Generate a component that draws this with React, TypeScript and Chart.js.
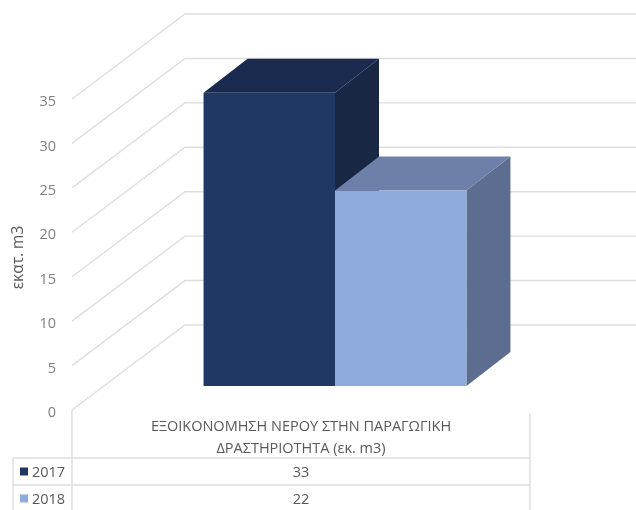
import React, { useEffect, useRef } from "react";
import { Chart, registerables } from "chart.js";

Chart.register(...registerables);

const categories = [["ΕΞΟΙΚΟΝΟΜΗΣΗ ΝΕΡΟΥ ΣΤΗΝ ΠΑΡΑΓΩΓΙΚΗ", "ΔΡΑΣΤΗΡΙΟΤΗΤΑ (εκ. m3)"]];
const seriesNames = ["2017", "2018"];
const values2017 = [33];
const values2018 = [22];
const yTitle = "εκατ. m3";

const frontColors = ["#1f3864", "#8faadc"];
const topColors = ["#1a2b4f", "#6c80a9"];
const sideColors = ["#172744", "#5c6d90"];
const gridColor = "#dedede";
const textColor = "#595959";
const fontFamily = "'Open Sans', 'Noto Sans', sans-serif";

const LABEL_SHIFT = -3; // walls sit slightly above their tick labels
const WALL_DX = 113;
const WALL_DY = -85;
const BAR_DX = 34;
const BAR_DY = -24 + LABEL_SHIFT;
const DEPTH_DX = 44;
const DEPTH_DY = -34;
const TABLE_LEFT = 13;
const ROW_HEIGHT = 27;
const TABLE_TOP_OFFSET = 45;

const threeD = {
  id: "threeD",
  beforeDatasetsDraw(chart: any) {
    const { ctx, scales, chartArea } = chart;
    const { left, right } = chartArea;
    ctx.save();
    ctx.strokeStyle = gridColor;
    ctx.lineWidth = 1.4;
    scales.y.ticks.forEach((t: any) => {
      const y = scales.y.getPixelForValue(t.value) + LABEL_SHIFT;
      ctx.beginPath();
      ctx.moveTo(left, y);
      ctx.lineTo(left + WALL_DX, y + WALL_DY);
      ctx.lineTo(right + WALL_DX, y + WALL_DY);
      ctx.stroke();
    });
    ctx.translate(BAR_DX, BAR_DY);
    chart.data.datasets.forEach((_: any, i: number) => {
      chart.getDatasetMeta(i).data.forEach((el: any) => {
        const l = el.x - el.width / 2;
        const r = el.x + el.width / 2;
        ctx.fillStyle = sideColors[i];
        ctx.beginPath();
        ctx.moveTo(r, el.y);
        ctx.lineTo(r + DEPTH_DX, el.y + DEPTH_DY);
        ctx.lineTo(r + DEPTH_DX, el.base + DEPTH_DY);
        ctx.lineTo(r, el.base);
        ctx.closePath();
        ctx.fill();
        ctx.fillStyle = topColors[i];
        ctx.beginPath();
        ctx.moveTo(l, el.y);
        ctx.lineTo(l + DEPTH_DX, el.y + DEPTH_DY);
        ctx.lineTo(r + DEPTH_DX, el.y + DEPTH_DY);
        ctx.lineTo(r, el.y);
        ctx.closePath();
        ctx.fill();
      });
    });
    ctx.restore();
    ctx.save();
    ctx.translate(BAR_DX, BAR_DY);
  },
  afterDatasetsDraw(chart: any) {
    const { ctx, chartArea, scales } = chart;
    ctx.restore();
    const { left, right, bottom } = chartArea;
    const tableTop = bottom + TABLE_TOP_OFFSET;
    const datasets = chart.data.datasets;
    ctx.save();
    ctx.strokeStyle = gridColor;
    ctx.lineWidth = 1.4;
    ctx.beginPath();
    ctx.moveTo(left, bottom + LABEL_SHIFT);
    ctx.lineTo(left, chart.height);
    ctx.moveTo(right, bottom);
    ctx.lineTo(right, chart.height);
    ctx.moveTo(TABLE_LEFT, tableTop);
    ctx.lineTo(TABLE_LEFT, chart.height);
    datasets.forEach((_: any, i: number) => {
      const y = tableTop + i * ROW_HEIGHT;
      ctx.moveTo(TABLE_LEFT, y);
      ctx.lineTo(right, y);
    });
    ctx.stroke();
    ctx.font = `14.5px ${fontFamily}`;
    ctx.textBaseline = "middle";
    datasets.forEach((ds: any, i: number) => {
      const y = tableTop + i * ROW_HEIGHT + ROW_HEIGHT / 2;
      ctx.fillStyle = frontColors[i];
      ctx.fillRect(TABLE_LEFT + 7, y - 4, 8, 8);
      ctx.fillStyle = textColor;
      ctx.textAlign = "left";
      ctx.fillText(ds.label, TABLE_LEFT + 19, y + 1.5);
      ctx.textAlign = "center";
      ctx.fillText(String(ds.data[0]), scales.x.getPixelForValue(0), y + 1.5);
    });
    ctx.restore();
  },
};

export default function App() {
  const ref = useRef<HTMLCanvasElement>(null);
  useEffect(() => {
    const chart = new Chart(ref.current!, {
      type: "bar",
      data: {
        labels: categories as any,
        datasets: [
          { label: seriesNames[0], data: values2017, backgroundColor: frontColors[0], clip: false as any },
          { label: seriesNames[1], data: values2018, backgroundColor: frontColors[1], clip: false as any },
        ],
      },
      options: {
        animation: false,
        responsive: false,
        devicePixelRatio: 1,
        layout: { padding: { top: 102, bottom: 0, right: 106, left: 0 } },
        categoryPercentage: 0.574,
        barPercentage: 1,
        plugins: { legend: { display: false }, tooltip: { enabled: false } },
        scales: {
          x: {
            grid: { display: false, tickLength: 0 },
            border: { display: false },
            afterFit: (s: any) => { s.height = 97; },
            ticks: {
              maxRotation: 0,
              minRotation: 0,
              padding: 3,
              color: textColor,
              font: { size: 14.5, family: fontFamily, lineHeight: 1.5 },
            },
          },
          y: {
            min: 0,
            max: 35,
            grid: { display: false },
            border: { display: false },
            afterFit: (s: any) => { s.width = 72; },
            title: {
              display: true,
              text: yTitle,
              color: textColor,
              font: { size: 15.5, family: fontFamily },
              padding: { top: 9, bottom: 0 },
            },
            ticks: {
              stepSize: 5,
              padding: 8,
              color: "#7f7f7f",
              font: { size: 14.5, family: fontFamily },
            },
          },
        },
      } as any,
      plugins: [threeD],
    });
    return () => chart.destroy();
  }, []);
  return (
    <canvas
      ref={ref}
      width={636}
      height={510}
      style={{ position: "absolute", left: 0, top: 0, width: 636, height: 510 }}
    />
  );
}
